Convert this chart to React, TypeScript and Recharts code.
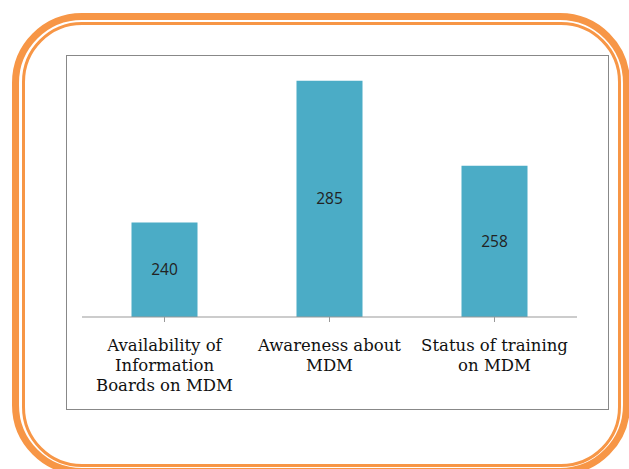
import React from 'react'
import { BarChart, Bar, XAxis, YAxis, LabelList } from 'recharts'

const categories = ['Availability of\nInformation\nBoards on MDM', 'Awareness about\nMDM', 'Status of training\non MDM']
const counts = [240, 285, 258]

const data = categories.map((name, i) => ({ name, value: counts[i] }))

const ORANGE = '#F79646'

function MultiLineTick(props: any) {
  const { x, y, payload } = props
  const lines = String(payload.value).split('\n')
  return (
    <text
      x={x}
      y={y + 27}
      textAnchor="middle"
      fill="#111"
      fontFamily="'DejaVu Serif', serif"
      fontSize={16.5}
    >
      {lines.map((l: string, i: number) => (
        <tspan key={i} x={x} dy={i === 0 ? 0 : 20}>
          {l}
        </tspan>
      ))}
    </text>
  )
}

export default function App() {
  return (
    <div style={{ position: 'fixed', left: 0, top: 0, width: 629, height: 469, overflow: 'hidden', background: '#fff' }}>
      <div
        style={{
          position: 'absolute', left: 12, top: 13, width: 618, height: 462,
          border: `7px solid ${ORANGE}`, borderRadius: 70, boxSizing: 'border-box',
        }}
      />
      <div
        style={{
          position: 'absolute', left: 22, top: 22, width: 599, height: 445,
          border: `3px solid ${ORANGE}`, borderRadius: 60, boxSizing: 'border-box',
        }}
      />
      <div
        style={{
          position: 'absolute', left: 66, top: 55, width: 543, height: 355,
          border: '1px solid #888', boxSizing: 'border-box',
        }}
      />
      <div style={{ position: 'absolute', left: 0, top: 0 }}>
        <BarChart
          width={629}
          height={469}
          data={data}
          margin={{ top: 65, right: 52, left: 82, bottom: 92 }}
          barCategoryGap="30%"
        >
          <XAxis
            dataKey="name"
            height={60}
            interval={0}
            axisLine={{ stroke: '#999' }}
            tickLine={{ stroke: '#999' }}
            tickSize={5}
            tick={<MultiLineTick />}
          />
          <YAxis hide domain={[210, 290]} />
          <Bar dataKey="value" fill="#4BACC6" isAnimationActive={false}>
            <LabelList
              dataKey="value"
              position="center"
              fill="#222"
              fontSize={15.5}
              fontFamily="'Open Sans', sans-serif"
            />
          </Bar>
        </BarChart>
      </div>
    </div>
  )
}
